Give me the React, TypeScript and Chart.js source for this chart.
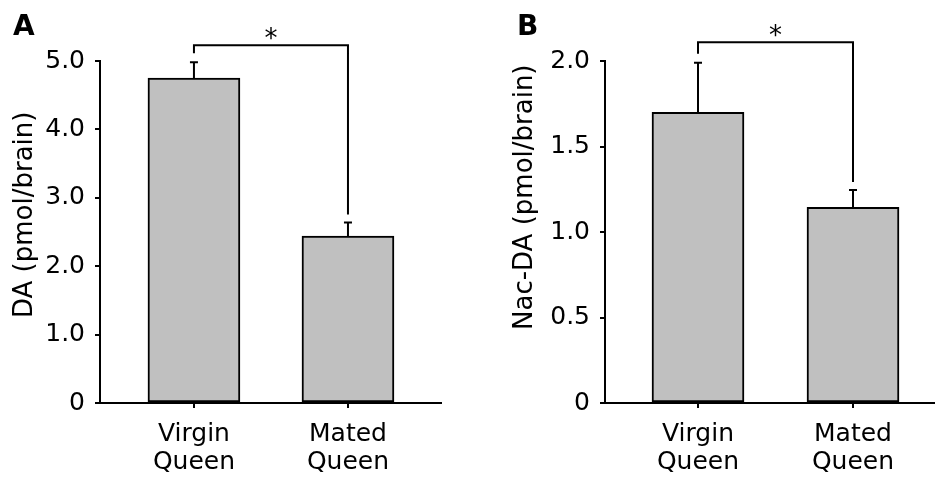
import React, { useEffect, useRef } from "react";
import { Chart, registerables } from "chart.js";

Chart.register(...registerables);

// ---------- data ----------
const categories: string[][] = [
  ["Virgin", "Queen"],
  ["Mated", "Queen"],
];
const daMeans = [4.75, 2.44];
const daErrors = [0.23, 0.2];
const nacMeans = [1.7, 1.145];
const nacErrors = [0.29, 0.1];
const daTicks = [0, 1, 2, 3, 4, 5];
const nacTicks = [0, 0.5, 1, 1.5, 2];
const daSignificance = { from: 0, to: 1, level: 5.23, label: "*" };
const nacSignificance = { from: 0, to: 1, level: 2.11, label: "*" };

const FONT = "DejaVu Sans";

type PanelCfg = {
  letter: string;
  title: string;
  means: number[];
  errors: number[];
  ticks: number[];
  sig: { from: number; to: number; level: number; label: string };
  left: number;
  width: number;
  xMin: number;
  xMax: number;
  yAxisWidth: number;
  padRight: number;
  titleX: number;
  titleBottom: number;
  letterX: number;
};

const panels: PanelCfg[] = [
  {
    letter: "A",
    title: "DA (pmol/brain)",
    means: daMeans,
    errors: daErrors,
    ticks: daTicks,
    sig: daSignificance,
    left: 0,
    width: 470,
    xMin: -0.61,
    xMax: 1.604,
    yAxisWidth: 100,
    padRight: 29,
    titleX: 32,
    titleBottom: 318,
    letterX: 13,
  },
  {
    letter: "B",
    title: "Nac-DA (pmol/brain)",
    means: nacMeans,
    errors: nacErrors,
    ticks: nacTicks,
    sig: nacSignificance,
    left: 470,
    width: 465,
    xMin: -0.6,
    xMax: 1.529,
    yAxisWidth: 135,
    padRight: 0,
    titleX: 62,
    titleBottom: 330,
    letterX: 47,
  },
];

function Panel({ cfg }: { cfg: PanelCfg }) {
  const ref = useRef<HTMLCanvasElement>(null);

  useEffect(() => {
    if (!ref.current) return;

    const annotate = {
      id: "annotate",
      afterDatasetsDraw(chart: any) {
        const ctx = chart.ctx as CanvasRenderingContext2D;
        const xs = chart.scales.x;
        const ys = chart.scales.y;
        ctx.save();
        ctx.strokeStyle = "#000";
        ctx.lineWidth = 2;
        ctx.lineCap = "butt";
        const errTopPx: number[] = [];
        cfg.means.forEach((m, i) => {
          const x = xs.getPixelForValue(i);
          const y0 = ys.getPixelForValue(m);
          const y1 = ys.getPixelForValue(m + cfg.errors[i]);
          errTopPx.push(y1);
          ctx.beginPath();
          ctx.moveTo(x, y0);
          ctx.lineTo(x, y1);
          ctx.moveTo(x - 4, y1);
          ctx.lineTo(x + 4, y1);
          ctx.stroke();
        });
        // significance bracket
        const s = cfg.sig;
        const xa = xs.getPixelForValue(s.from);
        const xb = xs.getPixelForValue(s.to);
        const yl = ys.getPixelForValue(s.level);
        ctx.beginPath();
        ctx.moveTo(xa, errTopPx[s.from] - 9);
        ctx.lineTo(xa, yl);
        ctx.lineTo(xb, yl);
        ctx.lineTo(xb, errTopPx[s.to] - 8);
        ctx.stroke();
        ctx.fillStyle = "#000";
        ctx.font = `26px "${FONT}"`;
        ctx.textAlign = "center";
        ctx.textBaseline = "alphabetic";
        ctx.fillText(s.label, (xa + xb) / 2, yl + 2);
        // panel letter
        ctx.font = `bold 28px "${FONT}"`;
        ctx.textAlign = "left";
        ctx.fillText(cfg.letter, cfg.letterX, 35);
        // y title
        ctx.font = `26px "${FONT}"`;
        ctx.translate(cfg.titleX, cfg.titleBottom);
        ctx.rotate(-Math.PI / 2);
        ctx.textAlign = "left";
        ctx.textBaseline = "alphabetic";
        ctx.fillText(cfg.title, 0, 0);
        ctx.restore();
      },
    };

    const chart = new Chart(ref.current, {
      type: "bar",
      data: {
        datasets: [
          {
            data: cfg.means.map((m, i) => ({ x: i, y: m })) as any,
            backgroundColor: "#c0c0c0",
            borderColor: "#000",
            borderWidth: 2,
            borderSkipped: false,
            barThickness: 92,
          } as any,
        ],
      },
      options: {
        responsive: false,
        animation: false,
        layout: { padding: { top: 61, right: cfg.padRight, left: 0, bottom: 0 } },
        plugins: {
          legend: { display: false },
          tooltip: { enabled: false },
        },
        scales: {
          x: {
            type: "linear",
            offset: false,
            min: cfg.xMin,
            max: cfg.xMax,
            afterBuildTicks: (s: any) => {
              s.ticks = categories.map((_, i) => ({ value: i }));
            },
            afterFit: (s: any) => {
              s.height = 84;
            },
            grid: {
              offset: false,
              drawOnChartArea: false,
              drawTicks: true,
              tickLength: 5,
              color: "#000",
              lineWidth: 2,
            },
            border: { display: true, color: "#000", width: 2 },
            ticks: {
              callback: (_v: any, i: number) => categories[i],
              font: { family: FONT, size: 25, lineHeight: 1.14 },
              color: "#000",
              padding: 12,
              maxRotation: 0,
              autoSkip: false,
            },
          } as any,
          y: {
            type: "linear",
            min: 0,
            max: cfg.ticks[cfg.ticks.length - 1],
            afterBuildTicks: (s: any) => {
              s.ticks = cfg.ticks.map((v) => ({ value: v }));
            },
            afterFit: (s: any) => {
              s.width = cfg.yAxisWidth;
            },
            grid: {
              drawOnChartArea: false,
              drawTicks: true,
              tickLength: 5,
              color: "#000",
              lineWidth: 2,
            },
            border: { display: true, color: "#000", width: 2 },
            ticks: {
              callback: (v: any) => (Number(v) === 0 ? "0" : Number(v).toFixed(1)),
              font: { family: FONT, size: 25 },
              color: "#000",
              padding: 10,
              autoSkip: false,
            },
          },
        },
      },
      plugins: [annotate],
    });
    return () => chart.destroy();
  }, [cfg]);

  return (
    <canvas
      ref={ref}
      width={cfg.width}
      height={487}
      style={{
        position: "absolute",
        left: cfg.left,
        top: 0,
        width: cfg.width,
        height: 487,
      }}
    />
  );
}

export default function App() {
  return (
    <div
      style={{
        position: "fixed",
        left: 0,
        top: 0,
        width: 935,
        height: 487,
        background: "#fff",
        overflow: "hidden",
      }}
    >
      {panels.map((p) => (
        <Panel key={p.letter} cfg={p} />
      ))}
    </div>
  );
}
